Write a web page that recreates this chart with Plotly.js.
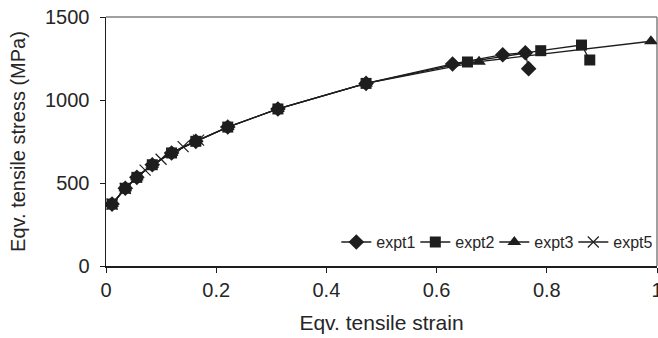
<!DOCTYPE html>
<html>
<head>
<meta charset="utf-8">
<script src="https://cdn.plot.ly/plotly-3.0.1.min.js"></script>
<style>html,body{margin:0;padding:0;background:#fff;}#chart{width:658px;height:338px;}</style>
</head>
<body>
<div id="chart"></div>
<script>
var seriesNames = ["expt1", "expt2", "expt3", "expt5"];
var expt1X = [0.011, 0.035, 0.056, 0.084, 0.119, 0.163, 0.221, 0.312, 0.472, 0.629, 0.720, 0.761, 0.767];
var expt1Y = [373, 468, 534, 610, 681, 751, 837, 946, 1100, 1217, 1273, 1285, 1189];
var expt2X = [0.011, 0.035, 0.056, 0.084, 0.119, 0.163, 0.221, 0.312, 0.472, 0.656, 0.789, 0.863, 0.878];
var expt2Y = [373, 468, 534, 610, 681, 751, 837, 946, 1100, 1229, 1297, 1331, 1241];
var expt3X = [0.011, 0.035, 0.056, 0.084, 0.119, 0.163, 0.221, 0.312, 0.472, 0.677, 0.989];
var expt3Y = [373, 468, 534, 610, 681, 751, 837, 946, 1100, 1231, 1354];
var expt5X = [0.011, 0.035, 0.071, 0.100, 0.140, 0.168];
var expt5Y = [373, 468, 578, 643, 719, 758];
var xTicks = [0, 0.2, 0.4, 0.6, 0.8, 1];
var yTicks = [0, 500, 1000, 1500];

var ink = "#1e1e1e";
var txt = "#262626";
function tr(name, x, y, sym, size) {
  return {
    type: "scatter", mode: "lines+markers", name: name, x: x, y: y,
    line: {color: ink, width: 1.3},
    marker: {symbol: sym, size: size, color: ink, line: {color: ink, width: sym === "x-thin" ? 1.2 : 0}}
  };
}
var data = [
  tr(seriesNames[0], expt1X, expt1Y, "diamond", 12),
  tr(seriesNames[1], expt2X, expt2Y, "square", 11),
  tr(seriesNames[2], expt3X, expt3Y, "triangle-up", 12),
  tr(seriesNames[3], expt5X, expt5Y, "x-thin", 11)
];
var layout = {
  width: 658, height: 338,
  margin: {l: 106, r: 1, t: 17, b: 72, pad: 0},
  paper_bgcolor: "#fff", plot_bgcolor: "#fff",
  font: {family: "Liberation Sans, Arial, sans-serif", color: txt, size: 20},
  showlegend: true,
  legend: {
    orientation: "h", x: 0.418, xanchor: "left", y: 0.096, yanchor: "middle",
    bgcolor: "rgba(255,255,255,0)", font: {size: 16, color: txt},
    entrywidth: 34, entrywidthmode: "pixels", traceorder: "normal"
  },
  xaxis: {
    range: [0, 1], tickvals: xTicks, ticktext: xTicks.map(String),
    showgrid: false, zeroline: false, showline: true, linecolor: ink, linewidth: 2,
    ticks: "outside", ticklen: 5, tickcolor: ink, tickwidth: 1,
    tickfont: {size: 20, color: txt}, ticklabeloverflow: "allow",
    title: {text: "Eqv. tensile strain", font: {size: 21, color: txt}, standoff: 15},
    fixedrange: true
  },
  yaxis: {
    range: [0, 1500], tickvals: yTicks, ticktext: yTicks.map(String),
    showgrid: false, zeroline: false, showline: true, linecolor: ink, linewidth: 1.5,
    ticks: "outside", ticklen: 5, tickcolor: ink, tickwidth: 1,
    tickfont: {size: 20, color: txt}, ticklabelstandoff: 6,
    title: {text: "Eqv. tensile stress (MPa)", font: {size: 20, color: txt}, standoff: 14},
    fixedrange: true
  },
  shapes: [
    {type: "line", xref: "paper", yref: "paper", x0: 0, x1: 1, y0: 1, y1: 1, line: {color: "#808080", width: 1.5}, layer: "below"},
    {type: "line", xref: "paper", yref: "paper", x0: 1, x1: 1, y0: 0, y1: 1, line: {color: "#808080", width: 1.5}, layer: "below"}
  ]
};
Plotly.newPlot("chart", data, layout, {displayModeBar: false, staticPlot: true});
</script>
</body>
</html>
